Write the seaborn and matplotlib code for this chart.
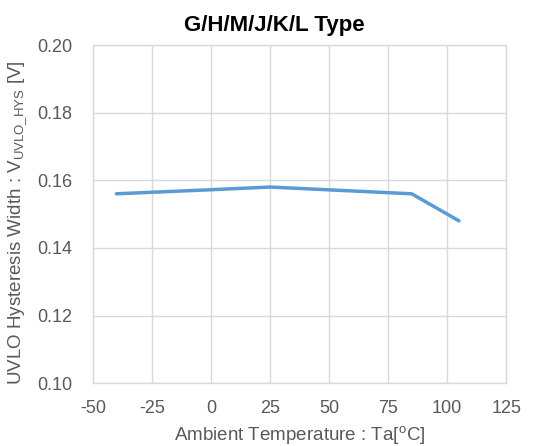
import matplotlib
matplotlib.use('Agg')
import matplotlib.pyplot as plt
import seaborn as sns
import pandas as pd

# data
temperature = [-40, 0, 25, 85, 105]
hysteresis = [0.156, 0.1572, 0.158, 0.156, 0.148]

x_ticks = [-50, -25, 0, 25, 50, 75, 100, 125]
y_ticks = [0.10, 0.12, 0.14, 0.16, 0.18, 0.20]

sns.set_theme(style="whitegrid", rc={
    "grid.color": "#d9d9d9",
    "axes.edgecolor": "#d9d9d9",
    "xtick.color": "#595959",
    "ytick.color": "#595959",
    "axes.labelcolor": "#595959",
})
plt.rcParams['font.family'] = ['Liberation Sans', 'DejaVu Sans']
plt.rcParams['axes.unicode_minus'] = False

df = pd.DataFrame({'temp': temperature, 'hys': hysteresis})

fig = plt.figure(figsize=(5.49, 4.46), dpi=100)
ax = fig.add_axes([0.169, 0.141, 0.753, 0.758])

sns.lineplot(data=df, x='temp', y='hys', ax=ax, color='#5b9bd5',
             linewidth=2.5)

ax.set_xlim(-50, 125)
ax.set_ylim(0.10, 0.20)
ax.set_xticks(x_ticks)
ax.set_yticks(y_ticks)
ax.set_yticklabels([f"{v:.2f}" for v in y_ticks])
ax.tick_params(labelsize=13, length=0)
ax.tick_params(axis='x', pad=12)
ax.tick_params(axis='y', pad=15)
for s in ax.spines.values():
    s.set_linewidth(1.0)

# title sits at the figure centre, not over the plot area
ax.set_title('G/H/M/J/K/L Type', fontsize=16, fontweight='bold',
             color='black', pad=10, x=0.44)
ax.set_xlabel(r'Ambient Temperature : Ta[$^{\mathregular{o}}$C]',
              fontsize=13.5)
ax.set_ylabel(r'UVLO Hysteresis Width : V$_{\mathregular{UVLO\_HYS}}$ [V]',
              fontsize=13.5)
ax.yaxis.set_label_coords(-0.155, 0.476)
ax.xaxis.set_label_coords(0.5, -0.122)

fig.savefig('out.png', dpi=100)
